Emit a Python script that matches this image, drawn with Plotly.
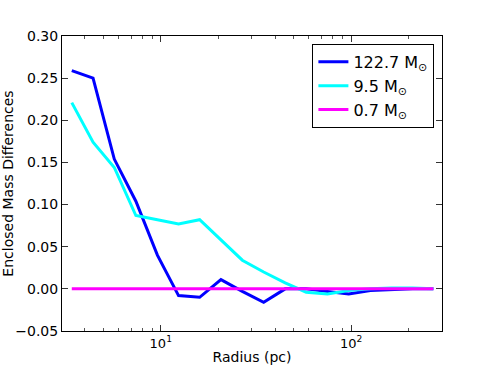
import plotly.graph_objects as go

# radii (pc)
radius = [3.41, 4.41, 5.7, 7.4, 9.6, 12.4, 16.0, 20.7, 26.8, 34.7,
          45.0, 58.0, 75.0, 97.0, 126.0, 163.0, 210.0, 270.0]

diff_122 = [0.259, 0.250, 0.154, 0.104, 0.040, -0.008, -0.010, 0.011, -0.003, -0.016,
            0.000, 0.000, -0.003, -0.006, -0.002, -0.001, 0.000, 0.000]
diff_9 = [0.221, 0.174, 0.144, 0.087, 0.082, 0.077, 0.082, 0.058, 0.034, 0.020,
          0.007, -0.004, -0.006, -0.002, 0.000, 0.001, 0.001, 0.000]
diff_07 = [0.0] * len(radius)

series_names = ["122.7 M<sub>⊙</sub>", "9.5 M<sub>⊙</sub>", "0.7 M<sub>⊙</sub>"]
series_colors = ["#0000ff", "#00ffff", "#ff00ff"]

x_tickvals = [10, 100]
x_ticktext = ["10<sup>1</sup>", "10<sup>2</sup>"]
y_tickvals = [-0.05, 0.0, 0.05, 0.10, 0.15, 0.20, 0.25, 0.30]
y_ticktext = ["\u22120.05", "0.00", "0.05", "0.10", "0.15", "0.20", "0.25", "0.30"]

fig = go.Figure()
for ys, name, color in zip([diff_122, diff_9, diff_07], series_names, series_colors):
    fig.add_trace(go.Scatter(x=radius, y=ys, name=name, mode="lines",
                             line=dict(color=color, width=3)))

fig.update_xaxes(
    type="log", range=[0.4814, 2.4766], automargin=False,
    tickvals=x_tickvals, ticktext=x_ticktext,
    ticks="inside", ticklen=6, tickcolor="#333", mirror="allticks",
    showline=True, linecolor="black", linewidth=1, showgrid=False, zeroline=False,
    minor=dict(ticks="inside", ticklen=3, tickcolor="#555",
               tickvals=[4, 5, 6, 7, 8, 9, 20, 30, 40, 50, 60, 70, 80, 90, 200, 300]),
    title=dict(text="Radius (pc)", font=dict(size=14), standoff=2),
    tickfont=dict(size=13),
)
fig.update_yaxes(
    range=[-0.05, 0.30], tickvals=y_tickvals, ticktext=y_ticktext, automargin=False,
    ticks="inside", ticklen=6, tickcolor="#333", mirror="allticks",
    showline=True, linecolor="black", linewidth=1, showgrid=False, zeroline=False,
    title=dict(text="Enclosed Mass Differences", font=dict(size=14), standoff=6),
    tickfont=dict(size=14),
)

fig.update_layout(
    width=491, height=368,
    margin=dict(l=62, r=49, t=36, b=37),
    paper_bgcolor="white", plot_bgcolor="white",
    font=dict(family="DejaVu Sans", color="black"),
    legend=dict(x=0.98, y=0.973, xanchor="right", yanchor="top",
                bordercolor="black", borderwidth=1, bgcolor="white",
                font=dict(size=16), itemwidth=30),
)

# drop the page's default body margin so the figure sits at the window corner
fig.write_html("out.html", config={"displayModeBar": False},
               post_script="document.body.style.margin='0';")
